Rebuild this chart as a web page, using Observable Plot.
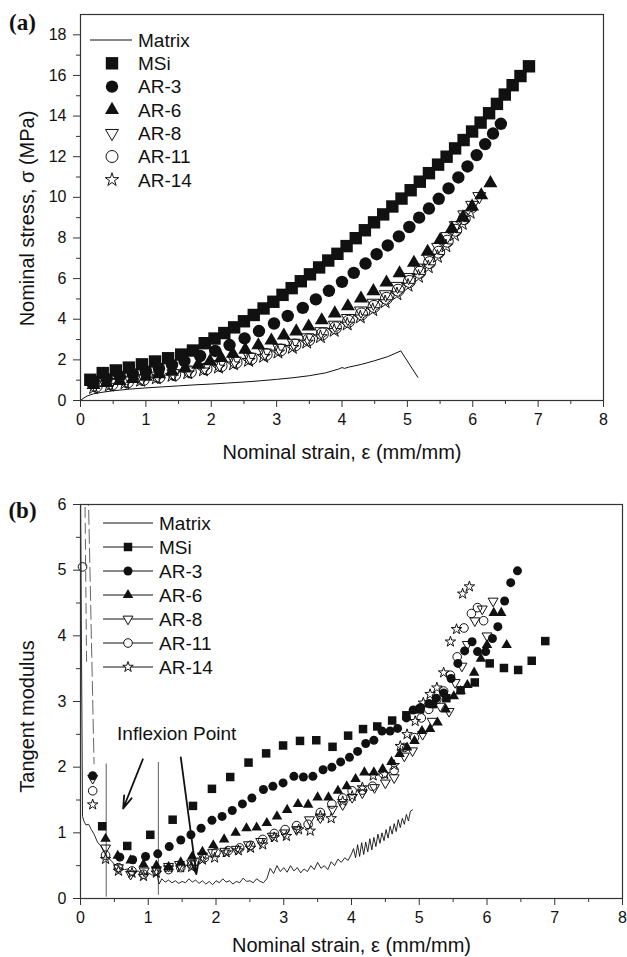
<!DOCTYPE html>
<html><head><meta charset="utf-8">
<script src="https://cdn.jsdelivr.net/npm/d3@7"></script>
<script src="https://cdn.jsdelivr.net/npm/@observablehq/plot@0.6"></script>
<style>
html,body{margin:0;padding:0;background:#fff;}
#chart{width:627px;}
#chart svg{display:block;}
</style></head><body><div id="chart"></div>
<script>
// ---------- DATA: panel (a) nominal stress vs nominal strain ----------
const seriesNames = ["Matrix", "MSi", "AR-3", "AR-6", "AR-8", "AR-11", "AR-14"];
const xTicks = [0, 1, 2, 3, 4, 5, 6, 7, 8];
const xMinor = [0.5, 1.5, 2.5, 3.5, 4.5, 5.5, 6.5, 7.5];
const yTicksA = [0, 2, 4, 6, 8, 10, 12, 14, 16, 18];
const yMinorA = [1, 3, 5, 7, 9, 11, 13, 15, 17];
const yTicksB = [0, 1, 2, 3, 4, 5, 6];
const yMinorB = [0.5, 1.5, 2.5, 3.5, 4.5, 5.5];

const matrixA = [[0,0],[0.04,0.1],[0.1,0.22],[0.2,0.33],[0.3,0.39],[0.5,0.48],[0.75,0.56],[1.0,0.62],[1.25,0.67],[1.5,0.72],[1.75,0.77],[2.0,0.81],[2.25,0.86],[2.5,0.91],[2.75,0.97],[3.0,1.04],[3.25,1.12],[3.5,1.22],[3.75,1.36],[3.95,1.55],[4.0,1.62],[4.04,1.58],[4.1,1.64],[4.3,1.78],[4.5,1.96],[4.7,2.16],[4.9,2.44],[5.16,1.14]];
const msiA = [[0.15,1.02],[0.34,1.35],[0.54,1.48],[0.74,1.62],[0.94,1.78],[1.14,1.92],[1.34,2.08],[1.54,2.26],[1.72,2.46],[1.90,2.82],[2.05,3.05],[2.20,3.32],[2.35,3.60],[2.50,3.90],[2.65,4.21],[2.80,4.53],[2.95,4.86],[3.09,5.20],[3.23,5.53],[3.37,5.87],[3.51,6.21],[3.65,6.55],[3.79,6.89],[3.93,7.22],[4.07,7.60],[4.21,7.99],[4.35,8.38],[4.49,8.77],[4.63,9.16],[4.77,9.55],[4.91,9.94],[5.05,10.35],[5.19,10.77],[5.33,11.19],[5.47,11.61],[5.60,12.00],[5.73,12.41],[5.86,12.82],[5.99,13.24],[6.12,13.68],[6.25,14.14],[6.37,14.60],[6.49,15.06],[6.61,15.52],[6.73,15.97],[6.86,16.45]];
const ar3A = [[0.20,0.95],[0.40,1.07],[0.60,1.19],[0.80,1.31],[1.00,1.44],[1.20,1.58],[1.40,1.75],[1.59,1.94],[1.83,2.19],[2.06,2.44],[2.28,2.73],[2.51,3.06],[2.73,3.42],[2.96,3.79],[3.17,4.16],[3.40,4.56],[3.60,4.98],[3.80,5.40],[4.00,5.84],[4.18,6.28],[4.36,6.74],[4.53,7.20],[4.70,7.63],[4.87,8.08],[5.03,8.54],[5.18,9.00],[5.33,9.45],[5.48,9.93],[5.63,10.44],[5.78,10.98],[5.92,11.52],[6.06,12.08],[6.19,12.62],[6.31,13.14],[6.43,13.62]];
const ar6A = [[0.20,0.76],[0.40,0.86],[0.60,0.96],[0.80,1.06],[1.00,1.17],[1.20,1.29],[1.40,1.42],[1.60,1.58],[1.80,1.76],[1.98,1.93],[2.15,2.10],[2.33,2.30],[2.52,2.50],[2.72,2.72],[2.92,2.95],[3.11,3.20],[3.30,3.40],[3.49,3.64],[3.69,3.95],[3.89,4.29],[4.09,4.64],[4.29,5.02],[4.48,5.38],[4.68,5.81],[4.88,6.26],[5.10,6.78],[5.31,7.32],[5.50,7.90],[5.68,8.46],[5.85,9.02],[5.99,9.55],[6.13,10.10],[6.27,10.70]];
const ar8A = [[0.22,0.78],[0.46,0.86],[0.70,0.97],[0.94,1.09],[1.18,1.21],[1.42,1.33],[1.66,1.47],[1.90,1.62],[2.13,1.78],[2.36,1.95],[2.59,2.14],[2.82,2.35],[3.04,2.58],[3.26,2.83],[3.47,3.10],[3.68,3.40],[3.89,3.72],[4.09,4.05],[4.29,4.42],[4.48,4.80],[4.67,5.22],[4.85,5.63],[5.02,6.07],[5.18,6.53],[5.33,7.02],[5.47,7.55],[5.61,8.08],[5.74,8.62],[5.87,9.15],[5.99,9.62],[6.10,10.05]];
const ar11A = [[0.24,0.70],[0.48,0.80],[0.72,0.91],[0.96,1.03],[1.20,1.15],[1.44,1.27],[1.68,1.41],[1.92,1.56],[2.15,1.71],[2.38,1.88],[2.61,2.06],[2.84,2.27],[3.06,2.49],[3.28,2.73],[3.49,2.99],[3.70,3.28],[3.90,3.58],[4.10,3.90],[4.30,4.26],[4.49,4.63],[4.68,5.03],[4.86,5.43],[5.03,5.86],[5.19,6.31],[5.34,6.79],[5.48,7.30],[5.61,7.84],[5.74,8.38],[5.87,8.95]];
const ar14A = [[0.20,0.62],[0.44,0.74],[0.68,0.86],[0.92,0.98],[1.16,1.10],[1.40,1.22],[1.64,1.35],[1.88,1.49],[2.11,1.63],[2.34,1.79],[2.57,1.96],[2.80,2.16],[3.02,2.37],[3.24,2.60],[3.46,2.86],[3.67,3.13],[3.88,3.44],[4.08,3.75],[4.28,4.10],[4.47,4.46],[4.66,4.85],[4.84,5.24],[5.01,5.66],[5.17,6.10],[5.32,6.57],[5.46,7.08],[5.59,7.60],[5.72,8.15],[5.84,8.70],[5.96,9.25]];

// ---------- DATA: panel (b) tangent modulus vs nominal strain ----------
const matrixB = [[0.0,6.3],[0.03,1.25],[0.05,1.18],[0.08,1.12],[0.12,1.13],[0.16,1.05],[0.2,0.98],[0.25,0.86],[0.3,0.8],[0.35,0.7],[0.4,0.62],[0.45,0.58],[0.5,0.52],[0.55,0.5],[0.6,0.46],[0.65,0.44],[0.7,0.45],[0.75,0.41],[0.8,0.4],[0.85,0.42],[0.9,0.38],[0.95,0.37],[1.0,0.39],[1.05,0.36],[1.1,0.35],[1.13,0.37],[1.16,0.22],[1.2,0.3],[1.25,0.25],[1.3,0.28],[1.35,0.24],[1.4,0.27],[1.45,0.23],[1.5,0.26],[1.55,0.24],[1.6,0.3],[1.65,0.25],[1.7,0.28],[1.75,0.23],[1.8,0.27],[1.85,0.22],[1.9,0.26],[1.95,0.21],[2.0,0.27],[2.05,0.24],[2.1,0.3],[2.15,0.25],[2.2,0.27],[2.25,0.22],[2.3,0.26],[2.35,0.24],[2.4,0.31],[2.45,0.26],[2.5,0.27],[2.55,0.24],[2.6,0.3],[2.65,0.26],[2.7,0.24],[2.75,0.3],[2.8,0.46],[2.85,0.38],[2.9,0.5],[2.95,0.41],[3.0,0.47],[3.05,0.4],[3.1,0.5],[3.15,0.42],[3.2,0.47],[3.25,0.39],[3.3,0.45],[3.35,0.41],[3.4,0.5],[3.45,0.44],[3.5,0.55],[3.55,0.46],[3.6,0.5],[3.65,0.44],[3.7,0.56],[3.75,0.5],[3.8,0.6],[3.85,0.55],[3.9,0.62],[3.95,0.58],[4.0,0.68],[4.03,0.76],[4.06,0.62],[4.09,0.82],[4.12,0.64],[4.15,0.85],[4.18,0.67],[4.21,0.86],[4.24,0.71],[4.27,0.91],[4.3,0.74],[4.33,0.93],[4.36,0.79],[4.39,0.98],[4.42,0.84],[4.45,1.0],[4.48,0.88],[4.51,1.05],[4.54,0.92],[4.57,1.1],[4.6,0.98],[4.63,1.14],[4.66,1.02],[4.69,1.2],[4.72,1.08],[4.75,1.22],[4.78,1.13],[4.81,1.28],[4.84,1.18],[4.87,1.33],[4.9,1.35]];
const msiB = [[0.32,1.10],[0.69,0.80],[1.03,0.97],[1.36,1.20],[1.66,1.41],[1.94,1.67],[2.21,1.85],[2.48,2.07],[2.74,2.21],[2.99,2.33],[3.24,2.40],[3.48,2.41],[3.72,2.31],[3.95,2.48],[4.17,2.58],[4.38,2.62],[4.60,2.71],[4.81,2.79],[5.01,2.88],[5.20,2.96],[5.40,3.05],[5.61,3.17],[5.82,3.29],[6.04,3.58],[6.25,3.51],[6.46,3.48],[6.66,3.62],[6.86,3.92]];
const ar3B = [[0.18,1.87],[0.58,0.63],[0.77,0.59],[0.96,0.64],[1.14,0.68],[1.31,0.79],[1.48,0.89],[1.63,0.97],[1.78,1.07],[1.94,1.19],[2.09,1.25],[2.24,1.34],[2.39,1.44],[2.53,1.53],[2.70,1.66],[2.84,1.71],[2.99,1.76],[3.15,1.86],[3.29,1.85],[3.43,1.86],[3.58,1.96],[3.71,2.00],[3.84,2.08],[3.97,2.15],[4.09,2.24],[4.21,2.36],[4.33,2.41],[4.45,2.55],[4.57,2.55],[4.68,2.59],[4.81,2.75],[4.91,2.87],[5.02,2.91],[5.14,2.97],[5.25,3.05],[5.36,3.13],[5.47,3.35],[5.57,3.58],[5.67,3.77],[5.78,3.91],[5.86,3.76],[5.98,3.76],[6.08,3.96],[6.16,4.14],[6.26,4.53],[6.35,4.81],[6.45,4.99]];
const ar6B = [[0.37,0.91],[0.55,0.65],[0.74,0.58],[0.93,0.52],[1.12,0.50],[1.30,0.48],[1.48,0.55],[1.65,0.64],[1.80,0.71],[1.96,0.81],[2.12,0.90],[2.29,1.00],[2.45,1.07],[2.60,1.08],[2.75,1.15],[2.90,1.25],[3.05,1.35],[3.21,1.44],[3.36,1.43],[3.50,1.54],[3.66,1.54],[3.80,1.64],[3.93,1.71],[4.06,1.82],[4.19,1.92],[4.33,1.92],[4.46,1.97],[4.59,2.08],[4.71,2.20],[4.82,2.30],[4.93,2.40],[5.04,2.55],[5.16,2.58],[5.27,2.68],[5.39,2.88],[5.51,3.08],[5.61,3.16],[5.71,3.25],[5.81,3.44],[5.91,3.65],[6.00,3.86],[6.10,4.35],[6.21,4.35],[6.29,3.86]];
const ar8B = [[0.18,1.83],[0.37,0.77],[0.56,0.47],[0.74,0.37],[0.94,0.42],[1.12,0.44],[1.30,0.49],[1.46,0.52],[1.64,0.54],[1.80,0.65],[1.95,0.70],[2.13,0.72],[2.30,0.75],[2.48,0.82],[2.66,0.87],[2.83,0.95],[3.01,1.00],[3.19,1.05],[3.38,1.20],[3.54,1.23],[3.72,1.36],[3.87,1.43],[4.01,1.54],[4.16,1.61],[4.34,1.69],[4.50,1.76],[4.63,1.84],[4.78,2.17],[4.90,2.25],[5.05,2.50],[5.19,2.70],[5.31,2.93],[5.44,2.85],[5.53,3.29],[5.63,3.54],[5.71,3.87],[5.82,4.23],[5.93,4.41],[6.00,4.00],[6.09,4.53]];
const ar11B = [[0.03,5.05],[0.18,1.64],[0.37,0.66],[0.56,0.47],[0.76,0.42],[0.93,0.37],[1.12,0.42],[1.30,0.44],[1.48,0.47],[1.64,0.51],[1.83,0.62],[2.00,0.70],[2.18,0.73],[2.35,0.77],[2.51,0.81],[2.69,0.90],[2.86,0.99],[3.02,1.05],[3.19,1.11],[3.36,1.13],[3.54,1.31],[3.71,1.44],[3.87,1.53],[4.01,1.64],[4.16,1.65],[4.31,1.71],[4.47,1.90],[4.63,1.95],[4.78,2.30],[4.93,2.45],[5.03,2.75],[5.14,2.88],[5.26,3.03],[5.36,3.16],[5.46,3.40],[5.56,3.68],[5.66,4.12],[5.77,4.34],[5.86,4.43],[5.95,4.23]];
const ar14B = [[0.18,1.43],[0.37,0.60],[0.56,0.42],[0.76,0.39],[0.93,0.34],[1.12,0.39],[1.30,0.47],[1.48,0.47],[1.64,0.48],[1.80,0.59],[1.98,0.62],[2.15,0.70],[2.33,0.73],[2.51,0.77],[2.69,0.82],[2.86,0.93],[3.04,0.95],[3.22,1.05],[3.39,1.03],[3.54,1.26],[3.70,1.22],[3.87,1.48],[4.01,1.56],[4.16,1.69],[4.32,1.87],[4.49,1.89],[4.63,2.03],[4.72,2.32],[4.82,2.50],[4.94,2.70],[5.06,2.98],[5.16,3.11],[5.26,3.21],[5.36,3.44],[5.46,3.91],[5.55,4.10],[5.64,4.64],[5.74,4.75]];
// steep lead-in segments near zero strain (dashed in the original)
const leadIn1 = [[0.115,6.2],[0.2,2.05]];
const leadIn2 = [[0.065,6.2],[0.09,3.55]];
// annotation
const inflexionRules = [{x:0.38, y1:0.02, y2:2.05},{x:1.15, y1:0.05, y2:2.07}];
const inflexionArrows = [{x1:0.92, y1:2.12, x2:0.63, y2:1.37},{x1:1.48, y1:2.15, x2:1.71, y2:0.37}];
const inflexionLabel = [{x:1.42, y:2.5, text:"Inflexion Point"}];

// ---------- styling ----------
const FONT = '"Liberation Sans", Arial, Helvetica, sans-serif';
const SERIF = '"Liberation Serif", "Times New Roman", serif';
const INK = "#111";
const triDown = {draw(ctx, size){const y=Math.sqrt(size/(3*Math.sqrt(3)));const s=Math.sqrt(3);ctx.moveTo(0,2*y);ctx.lineTo(-s*y,-y);ctx.lineTo(s*y,-y);ctx.closePath();}};
const symType = {square:d3.symbolSquare, circle:d3.symbolCircle, triangle:d3.symbolTriangle, star:d3.symbolStar};
const sym = s => typeof s === "string" ? symType[s] : s;

const styleA = {
  "MSi":  {symbol:"square", r:7.0, filled:true},
  "AR-3": {symbol:"circle", r:6.2, filled:true},
  "AR-6": {symbol:"triangle", r:5.2, filled:true},
  "AR-8": {symbol:triDown, r:4.8, filled:false},
  "AR-11":{symbol:"circle", r:6.0, filled:false},
  "AR-14":{symbol:"star", r:4.2, filled:false}
};
const styleB = {
  "MSi":  {symbol:"square", r:4.8, filled:true},
  "AR-3": {symbol:"circle", r:4.5, filled:true},
  "AR-6": {symbol:"triangle", r:3.9, filled:true},
  "AR-8": {symbol:triDown, r:3.7, filled:false},
  "AR-11":{symbol:"circle", r:4.3, filled:false},
  "AR-14":{symbol:"star", r:3.3, filled:false}
};
const dataA = {"MSi":msiA, "AR-3":ar3A, "AR-6":ar6A, "AR-8":ar8A, "AR-11":ar11A, "AR-14":ar14A};
const dataB = {"MSi":msiB, "AR-3":ar3B, "AR-6":ar6B, "AR-8":ar8B, "AR-11":ar11B, "AR-14":ar14B};

function dots(name, data, st) {
  return Plot.dot(data, {x: d => d[0], y: d => d[1], symbol: st.symbol, r: st.r,
    fill: st.filled ? INK : "none", stroke: st.filled ? "none" : INK, strokeWidth: 1});
}
function axes(yT, yM, fs) {
  return [
    Plot.axisX(xTicks, {anchor:"bottom", tickSize:7, tickPadding:6, fontSize:fs, label:null, stroke:"#333", tickFormat: d => String(d)}),
    Plot.axisX(xMinor, {anchor:"bottom", tickSize:4, tickFormat:() => "", label:null, stroke:"#333"}),
    Plot.axisY(yT, {anchor:"left", tickSize:7, tickPadding:7, fontSize:fs, label:null, stroke:"#333", tickFormat: d => String(d)}),
    Plot.axisY(yM, {anchor:"left", tickSize:4, tickFormat:() => "", label:null, stroke:"#333"})
  ];
}
function legend(svg, st, o) {
  const g = d3.select(svg).append("g").attr("font-family", FONT).attr("font-size", o.fontSize)
    .attr("fill", INK).attr("text-anchor", "start");
  seriesNames.forEach((name, i) => {
    const y = o.y0 + i * o.dy;
    if (name === "Matrix" || o.lines) {
      g.append("line").attr("x1", o.lx1).attr("x2", o.lx2).attr("y1", y).attr("y2", y).attr("stroke", INK).attr("stroke-width", 1);
    }
    if (name !== "Matrix") {
      const s = st[name];
      g.append("path").attr("transform", `translate(${o.mx},${y})`)
        .attr("d", d3.symbol(sym(s.symbol), Math.PI * s.r * s.r)())
        .attr("fill", s.filled ? INK : (o.lines ? "white" : "none"))
        .attr("stroke", s.filled ? "none" : INK).attr("stroke-width", 1);
    }
    g.append("text").attr("x", o.tx).attr("y", y).attr("dy", "0.36em").attr("text-anchor", "start").text(name);
  });
}
const baseStyle = {fontFamily: FONT, fontSize: "16px", background: "white", color: INK, overflow: "visible"};
const titleOpts = {text: d => d, textAnchor: "middle", lineAnchor: "middle", fontSize: 20};
const tagOpts = {text: d => d, frameAnchor: "top-left", textAnchor: "middle", lineAnchor: "middle", fontSize: 23, fontWeight: "bold", fontFamily: SERIF};

// ---------- panel (a) ----------
const orderA = ["AR-14", "AR-11", "AR-8", "AR-6", "AR-3", "MSi"];
const plotA = Plot.plot({
  width: 627, height: 470, marginLeft: 80, marginRight: 24, marginTop: 14, marginBottom: 70,
  style: baseStyle,
  x: {domain: [0, 8], axis: null},
  y: {domain: [0, 19], axis: null},
  marks: [
    ...axes(yTicksA, yMinorA, 16),
    Plot.line(matrixA, {x: d => d[0], y: d => d[1], stroke: INK, strokeWidth: 1}),
    ...orderA.map(n => dots(n, dataA[n], styleA[n])),
    Plot.frame({stroke: "#333", strokeWidth: 1.2}),
    Plot.text(["Nominal strain, ε (mm/mm)"], {...titleOpts, frameAnchor: "bottom", dy: 52}),
    Plot.text(["Nominal stress, σ (MPa)"], {...titleOpts, frameAnchor: "left", rotate: -90, dx: -53, dy: 11}),
    Plot.text(["(a)"], {...tagOpts, dx: -58, dy: 8})
  ]
});
legend(plotA, styleA, {y0: 40, dy: 23.3, lx1: 90, lx2: 132, mx: 112, tx: 138, fontSize: 19, lines: false});

// ---------- panel (b) ----------
const orderB = ["MSi", "AR-3", "AR-6", "AR-8", "AR-11", "AR-14"];
const plotB = Plot.plot({
  width: 627, height: 487, marginLeft: 80, marginRight: 5, marginTop: 34, marginBottom: 59,
  style: baseStyle,
  x: {domain: [0, 8], axis: null},
  y: {domain: [0, 6], axis: null},
  marks: [
    ...axes(yTicksB, yMinorB, 16),
    Plot.ruleX(inflexionRules, {x: "x", y1: "y1", y2: "y2", stroke: "#777", strokeWidth: 1.2}),
    Plot.line(leadIn1, {x: d => d[0], y: d => d[1], stroke: "#666", strokeWidth: 1, strokeDasharray: "14,5", clip: true}),
    Plot.line(leadIn2, {x: d => d[0], y: d => d[1], stroke: "#666", strokeWidth: 1, strokeDasharray: "10,6", clip: true}),
    Plot.line(matrixB, {x: d => d[0], y: d => d[1], stroke: INK, strokeWidth: 0.9, clip: true}),
    ...orderB.map(n => dots(n, dataB[n], styleB[n])),
    Plot.arrow(inflexionArrows, {x1: "x1", y1: "y1", x2: "x2", y2: "y2", stroke: INK, strokeWidth: 1.8, headLength: 11, headAngle: 35}),
    Plot.text(inflexionLabel, {x: "x", y: "y", text: "text", fontSize: 19}),
    Plot.frame({stroke: "#333", strokeWidth: 1.2}),
    Plot.text(["Nominal strain, ε (mm/mm)"], {...titleOpts, frameAnchor: "bottom", dy: 47}),
    Plot.text(["Tangent modulus"], {...titleOpts, frameAnchor: "left", rotate: -90, dx: -53, dy: 15}),
    Plot.text(["(b)"], {...tagOpts, dx: -58, dy: 6})
  ]
});
legend(plotB, styleB, {y0: 53, dy: 24, lx1: 103, lx2: 153, mx: 128, tx: 159, fontSize: 19, lines: true});

document.getElementById("chart").append(plotA, plotB);
</script></body></html>
